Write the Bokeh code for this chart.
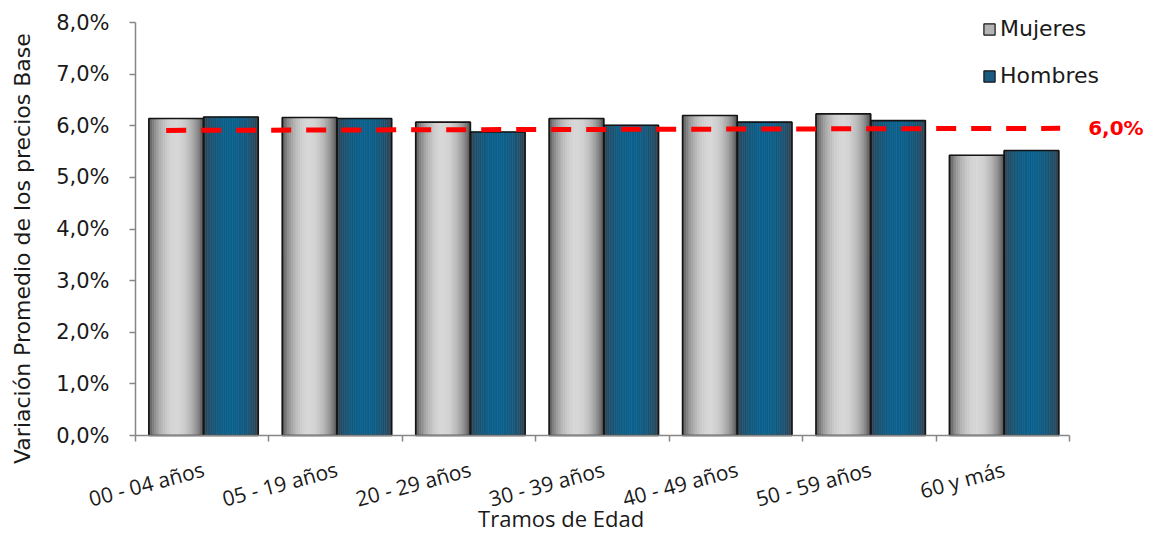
import numpy as np
from bokeh.plotting import figure
from bokeh.models import Range1d, FixedTicker, Legend, LegendItem, Label
from bokeh.embed import file_html
from bokeh.resources import INLINE

# ---------------- data ----------------
categories = ["00 - 04 años", "05 - 19 años", "20 - 29 años", "30 - 39 años",
              "40 - 49 años", "50 - 59 años", "60 y más"]
mujeres = [6.14, 6.16, 6.07, 6.14, 6.20, 6.23, 5.43]
hombres = [6.17, 6.14, 5.88, 6.01, 6.07, 6.10, 5.52]
series_names = ["Mujeres", "Hombres"]
trend_x = [0.23, 6.93]
trend_y = [5.91, 5.95]
trend_label = "6,0%"
y_ticks = [0, 1, 2, 3, 4, 5, 6, 7, 8]
y_tick_labels = ["0,0%", "1,0%", "2,0%", "3,0%", "4,0%", "5,0%", "6,0%", "7,0%", "8,0%"]
x_title = "Tramos de Edad"
y_title = "Variación Promedio de los precios Base"

# ---------------- layout (frame covers whole canvas) ----------------
W, H = 1145, 538
X0, X1 = 135, 1069   # screen x of category 0 and 7
Y0, Y8 = 435, 22     # screen y of 0 % and 8 %
ncat = len(categories)
pxu_x = (X1 - X0) / ncat
pxu_y = (Y0 - Y8) / 8.0

p = figure(width=W, height=H, output_backend="svg", toolbar_location=None,
           x_range=Range1d(-X0 / pxu_x, (W - X0) / pxu_x),
           y_range=Range1d(-(H - Y0) / pxu_y, Y0 / pxu_y))
p.min_border = 0
p.title.visible = False
p.outline_line_color = None
p.xgrid.visible = False
p.ygrid.visible = False
p.background_fill_color = "white"
p.border_fill_color = "white"

AX = "#868686"
TXT = "#1a1a1a"
# y axis
p.yaxis.fixed_location = 0
p.yaxis.bounds = (0, 8)
p.yaxis.ticker = FixedTicker(ticks=y_ticks)
p.yaxis.major_label_overrides = {t: l for t, l in zip(y_ticks, y_tick_labels)}
p.yaxis.axis_line_color = AX
p.yaxis.axis_line_width = 1.5
p.yaxis.major_tick_line_color = AX
p.yaxis.major_tick_line_width = 1.5
p.yaxis.major_tick_out = 6
p.yaxis.major_tick_in = 0
p.yaxis.minor_tick_line_color = None
p.yaxis.major_label_text_font = "DejaVu Sans"
p.yaxis.major_label_text_font_size = "21px"
p.yaxis.major_label_text_color = TXT
p.yaxis.major_label_standoff = 20

# x axis
centers = [i + 0.51 for i in range(ncat)]
p.xaxis.fixed_location = 0
p.xaxis.bounds = (0, ncat)
p.xaxis.ticker = FixedTicker(ticks=centers, minor_ticks=list(range(ncat + 1)))
p.xaxis.major_label_overrides = {c: l for c, l in zip(centers, categories)}
p.xaxis.major_label_orientation = np.pi / 12
p.xaxis.axis_line_color = AX
p.xaxis.axis_line_width = 1.5
p.xaxis.major_tick_line_color = None
p.xaxis.major_tick_out = 0
p.xaxis.major_tick_in = 0
p.xaxis.minor_tick_line_color = AX
p.xaxis.minor_tick_line_width = 1.5
p.xaxis.minor_tick_out = 6
p.xaxis.minor_tick_in = 0
p.xaxis.major_label_text_font = "Open Sans"
p.xaxis.major_label_text_font_size = "21px"
p.xaxis.major_label_text_color = TXT
p.xaxis.major_label_standoff = 27

# ---------------- gradient bars ----------------
bar_w = 0.41
N = 30
t_edges = np.linspace(0, 1, N + 1)
t_mid = (t_edges[:-1] + t_edges[1:]) / 2
s = np.sin(np.pi * t_mid) ** 0.6


def mix(c0, c1, w):
    return "#%02x%02x%02x" % tuple(int(round(a + (b - a) * w)) for a, b in zip(c0, c1))


grey_cols = [mix((58, 58, 58), (214, 214, 214), w) for w in s]
blue_cols = [mix((58, 61, 68), (10, 96, 140), w) for w in s]

for k, (vals, cols) in enumerate([(mujeres, grey_cols), (hombres, blue_cols)]):
    L, R, T, B, C = [], [], [], [], []
    for i, v in enumerate(vals):
        x0 = centers[i] + (k - 1) * bar_w
        for j in range(N):
            L.append(x0 + t_edges[j] * bar_w)
            R.append(x0 + t_edges[j + 1] * bar_w)
            T.append(v)
            B.append(0)
            C.append(cols[j])
    p.quad(left=L, right=R, top=T, bottom=B, fill_color=C, line_color=C, line_width=0.6)

# bar outlines
p.vbar(x=[c - bar_w / 2 for c in centers], top=mujeres, width=bar_w,
       fill_color=None, line_color="#141414", line_width=1.6)
p.vbar(x=[c + bar_w / 2 for c in centers], top=hombres, width=bar_w,
       fill_color=None, line_color="#141414", line_width=1.6)

# trend line
p.line(x=trend_x, y=trend_y, line_color="#ff0000", line_width=5, line_dash="20 15")
p.add_layout(Label(x=trend_x[1], y=trend_y[1], x_offset=28, text=trend_label,
                   text_color="#ff0000", text_font="DejaVu Sans", text_font_style="bold",
                   text_font_size="20px", text_baseline="middle", text_align="left"))

# axis titles
p.add_layout(Label(x=3.19, y=-1.30, text=x_title, text_font="Open Sans",
                   text_font_size="22px", text_color=TXT,
                   text_align="center", text_baseline="top"))
p.add_layout(Label(x=-0.847, y=3.62, text=y_title, angle=np.pi / 2,
                   text_font="DejaVu Sans", text_font_size="22px", text_color=TXT,
                   text_align="center", text_baseline="middle"))

# legend
r_m = p.vbar(x=[np.nan], top=[np.nan], width=0.1, fill_color="#b4b4b4", line_color="#141414", line_width=1.2)
r_h = p.vbar(x=[np.nan], top=[np.nan], width=0.1, fill_color="#1b5a80", line_color="#141414", line_width=1.2)
legend = Legend(items=[LegendItem(label=series_names[0], renderers=[r_m]),
                       LegendItem(label=series_names[1], renderers=[r_h])],
                location=(982, 450), orientation="vertical",
                glyph_width=14, glyph_height=14, label_standoff=4,
                label_text_font="DejaVu Sans", label_text_font_size="22px",
                label_text_color=TXT, spacing=22, padding=0, margin=0,
                border_line_color=None, background_fill_alpha=0)
p.add_layout(legend, "center")

open("out.html", "w").write(file_html(p, INLINE))
